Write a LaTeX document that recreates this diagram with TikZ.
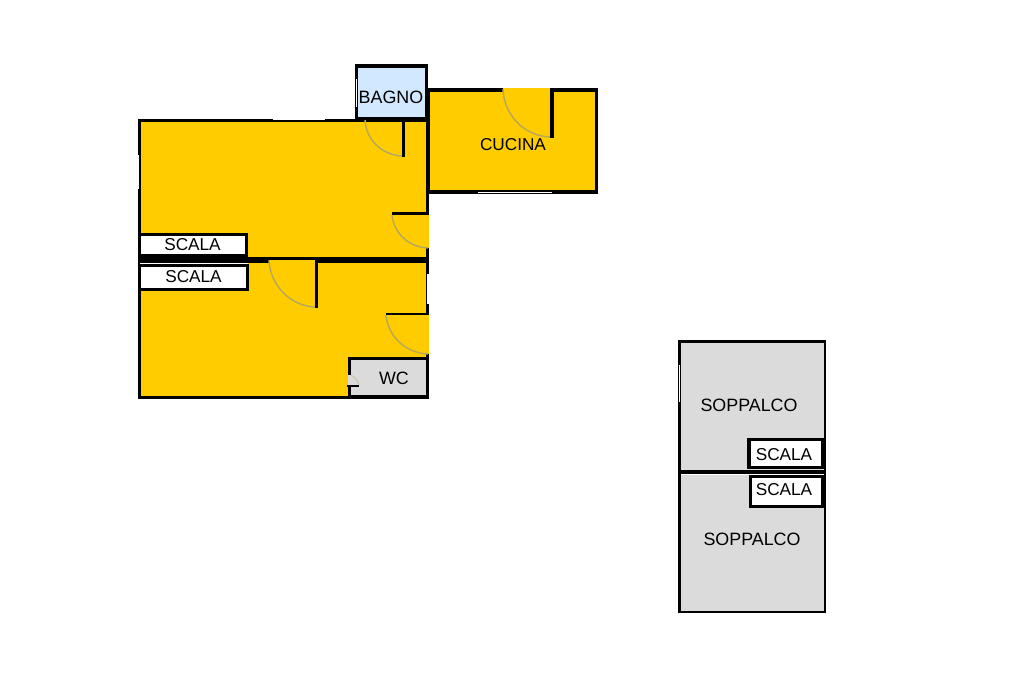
\documentclass[tikz,border=0pt]{standalone}
\usepackage{fontspec}
\setmainfont{Liberation Sans}
\definecolor{roomyellow}{HTML}{FFCC00}
\definecolor{roomblue}{HTML}{D2E8FF}
\definecolor{roomgray}{HTML}{DBDBDB}
\definecolor{doorarc}{HTML}{B8A858}
\tikzset{
  wall/.style={fill=black},
  win/.style={fill=white},
  swing/.style={draw=doorarc,line width=1.1pt},
  lab/.style={font=\fontsize{12.9pt}{14pt}\selectfont,text=black,inner sep=0pt,anchor=center},
  labwide/.style={lab,font=\fontsize{13.4pt}{14pt}\selectfont}
}
\begin{document}
\begin{tikzpicture}[x=0.75pt,y=-0.75pt]
\useasboundingbox (0,0) rectangle (1024,682);
\fill[white] (0,0) rectangle (1024,682);
% main flat
\fill[wall] (137.5,118.5) rectangle (429,398.5);
\fill[roomyellow] (140.5,121.5) rectangle (426,395.5);
% bathroom
\fill[wall] (355,64) rectangle (428,120);
\fill[roomblue] (358,67.5) rectangle (425,116.5);
% kitchen
\fill[wall] (426,88) rectangle (598,193.5);
\fill[roomyellow] (430,91.5) rectangle (595,190);
% kitchen door
\fill[roomyellow] (503,88) rectangle (550,92);
\fill[wall] (550,88) rectangle (553.5,138);
\draw[swing] (503,89) .. controls (504,115) and (524,136) .. (550,137);
% bathroom door
\fill[wall] (402,120) rectangle (404.5,157);
\draw[swing] (365,120) .. controls (366,140) and (382,155) .. (402,156);
% door on the right wall, upper
\fill[roomyellow] (426,215) rectangle (429,248);
\fill[wall] (392,212) rectangle (429,215);
\draw[swing] (392,215) .. controls (394,233) and (408,247) .. (428,248);
% dividing wall
\fill[wall] (137.5,257) rectangle (429,263);
\fill[roomyellow] (269,260) rectangle (315,263);
\fill[wall] (315,260) rectangle (318,308);
\draw[swing] (269,260) .. controls (270,285) and (290,306) .. (315,307);
% stairs
\fill[wall] (137.5,233) rectangle (248,263);
\fill[win] (140.5,236) rectangle (245,254);
\fill[wall] (137.5,264) rectangle (249,291);
\fill[win] (140.5,267) rectangle (246,288);
\draw[white,line width=0.4pt] (140,263.5) -- (248,263.5);
% door on the right wall, lower
\fill[roomyellow] (426,315) rectangle (429,354);
\fill[wall] (386,312.5) rectangle (429,315);
\draw[swing] (386,315) .. controls (388,337) and (406,353) .. (428,354);
% wc
\fill[wall] (348,357) rectangle (429,398.5);
\fill[roomgray] (351,360) rectangle (426,395);
\fill[roomgray] (348,375) rectangle (351,385);
\fill[wall] (347,385) rectangle (359,386.5);
\draw[swing,line width=0.5pt,draw=doorarc!60!roomgray] (351,375) .. controls (355,377) and (358,381) .. (359,385);
% windows
\fill[win] (273,118.5) rectangle (325,120);
\fill[win] (137.5,155) rectangle (139,189);
\fill[win] (427.3,274) rectangle (428.6,304);
\fill[win] (355.5,79) rectangle (357,107);
\fill[win] (478,191.5) rectangle (552,193);
% mezzanine
\fill[wall] (678,340) rectangle (826,613);
\fill[roomgray] (681,343) rectangle (823.5,470);
\fill[roomgray] (681,473.5) rectangle (823.5,610.5);
\draw[white,line width=0.4pt] (681,474) -- (823.5,474);
\fill[win] (679,365) rectangle (680.3,402);
\fill[wall] (747,438) rectangle (824,469);
\fill[win] (750.5,441) rectangle (821,466);
\fill[wall] (749,475) rectangle (824,508);
\fill[win] (752,478) rectangle (821,505);
% labels
\node[labwide] (bagno) at (391,97) {BAGNO};
\node[lab] (cucina) at (513,145) {CUCINA};
\node[lab] (scalaa) at (192.5,245) {SCALA};
\node[lab] (scalab) at (193.5,277) {SCALA};
\node[labwide] (wc) at (394,378) {WC};
\node[labwide] (soppa) at (749,405.5) {SOPPALCO};
\node[labwide] (soppb) at (752,539.5) {SOPPALCO};
\node[lab] (scalac) at (784,455) {SCALA};
\node[lab] (scalad) at (784,490) {SCALA};
\end{tikzpicture}
\end{document}
